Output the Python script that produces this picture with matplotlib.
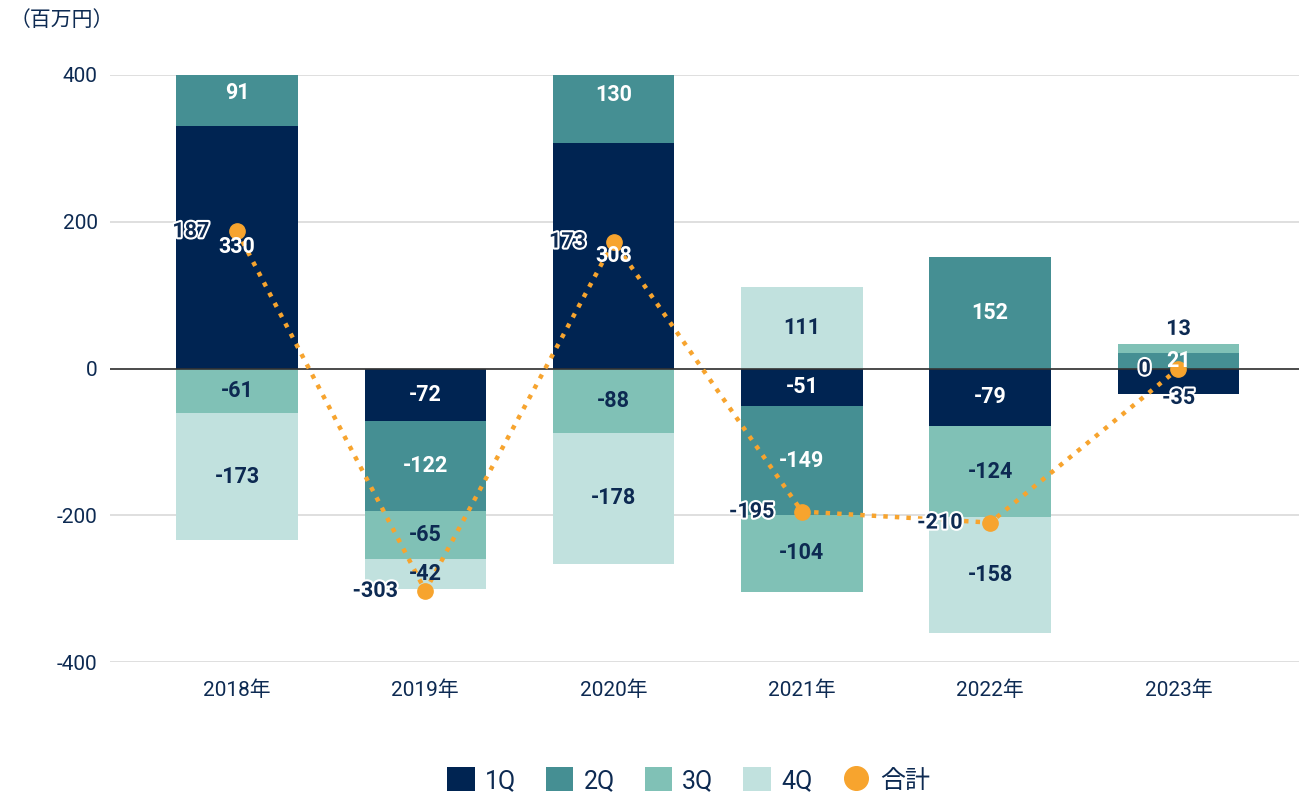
import matplotlib.pyplot as plt
import matplotlib.patheffects as pe
from matplotlib.patches import Patch
from matplotlib.lines import Line2D
import numpy as np

plt.rcParams['font.family'] = ['Roboto', 'Noto Sans CJK JP', 'DejaVu Sans']

years = ['2018年', '2019年', '2020年', '2021年', '2022年', '2023年']
q1 = [330, -72, 308, -51, -79, -35]
q2 = [91, -122, 130, -149, 152, 21]
q3 = [-61, -65, -88, -104, -124, 13]
q4 = [-173, -42, -178, 111, -158, 0]
totals = [187, -303, 173, -195, -210, 0]

series = [('1Q', q1, '#002452', 'white'),
          ('2Q', q2, '#458f93', 'white'),
          ('3Q', q3, '#80c1b6', '#0d2a52'),
          ('4Q', q4, '#c1e1de', '#0d2a52')]
NAVY = '#0d2a52'
ORANGE = '#f7a42e'

fig = plt.figure(figsize=(12.99, 7.96), dpi=100)
ax = fig.add_axes([110 / 1299, (796 - 662) / 796, 1 - 110 / 1299, (662 - 75) / 796])

x = np.arange(len(years))
width = 0.645
pos_base = np.zeros(len(years))
neg_base = np.zeros(len(years))
outline = [pe.withStroke(linewidth=3, foreground='white')]

for name, vals, color, tcolor in series:
    vals = np.array(vals, dtype=float)
    bottoms = np.where(vals >= 0, pos_base, neg_base)
    ax.bar(x, vals, width, bottom=bottoms, color=color, zorder=2)
    for i, v in enumerate(vals):
        if v == 0:
            continue
        b = bottoms[i]
        top = b + v
        center = b + v / 2
        is_outer = (name == '3Q' and i == 5) or (name == '1Q' and i == 5)
        if is_outer:
            # too small to fit, push outside the bar end
            ly = top + (20 if v > 0 else -5)
            ax.text(i, ly, f'{int(v)}', ha='center', va='center', fontsize=15.5,
                    fontweight='bold', color=NAVY, path_effects=outline, zorder=5)
            continue
        ly = min(center, 375)
        ax.text(i, ly, f'{int(v)}', ha='center', va='center', fontsize=15.5,
                fontweight='bold', color=tcolor, zorder=5)
    pos_base = np.where(vals >= 0, pos_base + vals, pos_base)
    neg_base = np.where(vals < 0, neg_base + vals, neg_base)

ax.plot(x, totals, color=ORANGE, linestyle=(0, (1, 1.6)), linewidth=3.2,
        marker='o', markersize=11, zorder=4)
for i, t in enumerate(totals):
    ax.annotate(f'{t}', (i, t), xytext=(-20, 0), textcoords='offset points',
                ha='right', va='center', fontsize=15.5, fontweight='bold',
                color=NAVY, path_effects=outline, zorder=6)

ax.set_ylim(-400, 400)
ax.set_xlim(-0.675, 5.64)
ax.set_yticks([-400, -200, 0, 200, 400])
ax.set_yticklabels(['-400', '-200', '0', '200', '400'])
ax.set_xticks(x)
ax.set_xticklabels(years)
ax.tick_params(length=0, labelsize=15, labelcolor=NAVY)
ax.tick_params(axis='y', pad=9)
ax.tick_params(axis='x', pad=13)
for s in ax.spines.values():
    s.set_visible(False)
ax.grid(axis='y', color='#d9d9d9', linewidth=1.2, zorder=0)
ax.set_axisbelow(True)
ax.axhline(0, color='#333333', linewidth=1.2, zorder=3)

fig.text(10 / 1299, 1 - 20 / 796, '（百万円）', ha='left', va='center',
         fontsize=15, color=NAVY)

handles = [Patch(facecolor=c, label=n) for n, _, c, _ in series]
handles.append(Line2D([], [], marker='o', color=ORANGE, linestyle='none',
                      markersize=17, label='合計'))
fig.legend(handles=handles, loc='center', bbox_to_anchor=(0.530, 1 - 780 / 796),
           ncol=5, frameon=False, fontsize=18, handlelength=1.1, handleheight=1.1,
           handletextpad=0.4, columnspacing=1.2, labelcolor=NAVY)

fig.savefig('out.png', dpi=100)
